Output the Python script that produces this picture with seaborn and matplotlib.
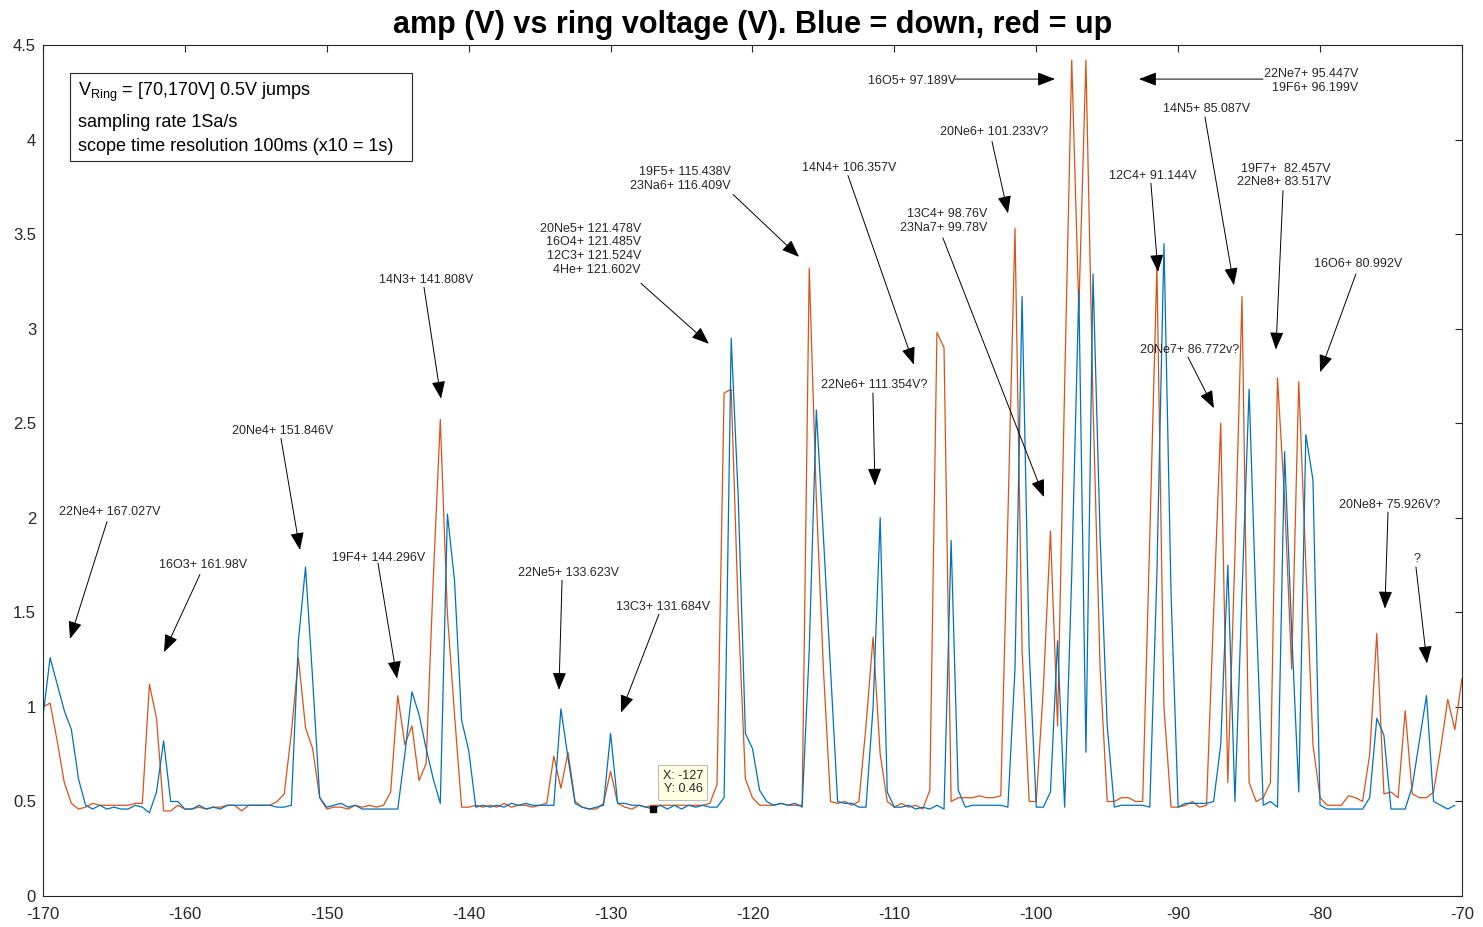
import numpy as np
import matplotlib
matplotlib.use("Agg")
import matplotlib.pyplot as plt
import seaborn as sns
from matplotlib.patches import Rectangle

# ---------------- data ----------------
ring_voltage_up = np.arange(-170.0, -69.75, 0.5)     # -170 ... -70
ring_voltage_down = np.arange(-170.0, -70.25, 0.5)   # -170 ... -70.5

amp_up = [
    1.00, 1.02, 0.82, 0.60, 0.49, 0.46, 0.47, 0.49, 0.48, 0.48,
    0.48, 0.48, 0.48, 0.49, 0.49, 1.12, 0.94, 0.45, 0.45, 0.48,
    0.46, 0.46, 0.47, 0.46, 0.47, 0.47, 0.48, 0.48, 0.45, 0.48,
    0.48, 0.48, 0.48, 0.50, 0.54, 0.86, 1.26, 0.89, 0.78, 0.52,
    0.46, 0.47, 0.47, 0.46, 0.48, 0.47, 0.48, 0.47, 0.48, 0.55,
    1.06, 0.80, 0.90, 0.61, 0.70, 1.67, 2.52, 1.49, 0.96, 0.47,
    0.47, 0.48, 0.47, 0.48, 0.47, 0.49, 0.47, 0.48, 0.48, 0.47,
    0.48, 0.49, 0.74, 0.57, 0.76, 0.50, 0.47, 0.46, 0.46, 0.49,
    0.66, 0.49, 0.47, 0.46, 0.48, 0.47, 0.48, 0.48, 0.48, 0.48,
    0.48, 0.48, 0.48, 0.48, 0.49, 0.59, 2.66, 2.68, 1.50, 0.62,
    0.52, 0.48, 0.48, 0.48, 0.49, 0.48, 0.48, 0.48, 3.32, 2.10,
    1.20, 0.50, 0.49, 0.50, 0.48, 0.50, 0.90, 1.37, 0.75, 0.50,
    0.47, 0.49, 0.47, 0.48, 0.46, 0.56, 2.98, 2.90, 0.50, 0.52,
    0.52, 0.52, 0.53, 0.52, 0.52, 0.53, 2.00, 3.53, 1.30, 0.50,
    0.50, 1.10, 1.93, 0.90, 2.70, 4.42, 3.10, 4.42, 2.60, 1.20,
    0.50, 0.50, 0.52, 0.52, 0.50, 0.50, 1.90, 3.33, 1.00, 0.47,
    0.47, 0.48, 0.50, 0.47, 0.48, 1.50, 2.50, 0.60, 1.80, 3.17,
    0.60, 0.50, 0.52, 0.60, 2.74, 2.10, 1.20, 2.72, 1.75, 0.80,
    0.52, 0.48, 0.48, 0.48, 0.53, 0.52, 0.50, 0.75, 1.39, 0.54,
    0.55, 0.52, 0.98, 0.54, 0.52, 0.52, 0.55, 0.78, 1.04, 0.88,
    1.15,
]

amp_down = [
    0.95, 1.26, 1.12, 0.98, 0.88, 0.62, 0.48, 0.46, 0.48, 0.46,
    0.47, 0.46, 0.46, 0.48, 0.47, 0.44, 0.55, 0.82, 0.50, 0.50,
    0.46, 0.46, 0.48, 0.46, 0.47, 0.46, 0.48, 0.48, 0.48, 0.48,
    0.48, 0.48, 0.48, 0.47, 0.47, 0.48, 1.35, 1.74, 1.15, 0.52,
    0.47, 0.48, 0.49, 0.47, 0.48, 0.46, 0.46, 0.46, 0.46, 0.46,
    0.46, 0.75, 1.08, 0.96, 0.78, 0.62, 0.49, 2.02, 1.67, 0.93,
    0.77, 0.47, 0.48, 0.47, 0.48, 0.47, 0.49, 0.48, 0.49, 0.48,
    0.48, 0.48, 0.48, 0.99, 0.73, 0.49, 0.47, 0.46, 0.47, 0.48,
    0.86, 0.49, 0.49, 0.48, 0.48, 0.47, 0.46, 0.48, 0.46, 0.48,
    0.46, 0.48, 0.47, 0.48, 0.47, 0.47, 0.52, 2.95, 2.10, 0.86,
    0.78, 0.56, 0.50, 0.48, 0.49, 0.48, 0.49, 0.47, 1.30, 2.57,
    1.90, 1.20, 0.50, 0.49, 0.49, 0.47, 0.47, 1.00, 2.00, 0.55,
    0.47, 0.47, 0.48, 0.46, 0.47, 0.46, 0.48, 0.46, 1.88, 0.56,
    0.47, 0.48, 0.48, 0.48, 0.48, 0.48, 0.47, 1.20, 3.17, 1.30,
    0.47, 0.47, 0.55, 1.35, 0.47, 1.70, 3.20, 0.76, 3.29, 1.90,
    0.90, 0.47, 0.48, 0.48, 0.48, 0.48, 0.47, 1.70, 3.45, 1.60,
    0.47, 0.49, 0.49, 0.49, 0.49, 0.50, 0.80, 1.75, 0.50, 1.60,
    2.68, 1.50, 0.48, 0.50, 0.47, 2.35, 1.40, 0.55, 2.44, 2.20,
    0.48, 0.46, 0.46, 0.46, 0.46, 0.46, 0.46, 0.52, 0.94, 0.85,
    0.46, 0.46, 0.46, 0.58, 0.82, 1.06, 0.50, 0.48, 0.46, 0.48,
]

x_ticks = list(range(-170, -69, 10))
y_ticks = [0, 0.5, 1, 1.5, 2, 2.5, 3, 3.5, 4, 4.5]
y_tick_labels = ["0", "0.5", "1", "1.5", "2", "2.5", "3", "3.5", "4", "4.5"]

title = "amp (V) vs ring voltage (V). Blue = down, red = up"
info_lines = [r"V$_{\mathrm{Ring}}$ = [70,170V] 0.5V jumps",
              "sampling rate 1Sa/s",
              "scope time resolution 100ms (x10 = 1s)"]

# (text, text anchor (x, y), ha, arrow tail, arrow tip)
annotations = [
    ("22Ne4+ 167.027V", (-165.28, 2.03), "center", (-165.49, 1.98), (-168.10, 1.36)),
    ("16O3+ 161.98V", (-158.72, 1.75), "center", (-158.94, 1.70), (-161.47, 1.29)),
    ("20Ne4+ 151.846V", (-153.09, 2.46), "center", (-153.23, 2.42), (-151.89, 1.83)),
    ("19F4+ 144.296V", (-146.32, 1.79), "center", (-146.39, 1.76), (-145.05, 1.15)),
    ("14N3+ 141.808V", (-143.01, 3.26), "center", (-143.15, 3.22), (-141.95, 2.63)),
    ("22Ne5+ 133.623V", (-133.00, 1.71), "center", (-133.42, 1.67), (-133.64, 1.09)),
    ("13C3+ 131.684V", (-126.31, 1.53), "center", (-126.59, 1.49), (-129.27, 0.97)),
    ("20Ne5+ 121.478V\n16O4+ 121.485V\n12C3+ 121.524V\n4He+ 121.602V",
     (-127.86, 3.42), "right", (-127.86, 3.24), (-123.07, 2.92)),
    ("19F5+ 115.438V\n23Na6+ 116.409V", (-121.52, 3.79), "right", (-121.37, 3.71), (-116.72, 3.38)),
    ("14N4+ 106.357V", (-113.20, 3.85), "center", (-113.27, 3.81), (-108.62, 2.81)),
    ("22Ne6+ 111.354V?", (-111.44, 2.70), "center", (-111.51, 2.66), (-111.37, 2.17)),
    ("13C4+ 98.76V\n23Na7+ 99.78V", (-103.47, 3.57), "right", (-106.58, 3.48), (-99.46, 2.11)),
    ("20Ne6+ 101.233V?", (-102.98, 4.04), "center", (-103.12, 3.99), (-101.99, 3.61)),
    ("16O5+ 97.189V", (-108.76, 4.31), "center", (-105.73, 4.32), (-98.68, 4.32)),
    ("22Ne7+ 95.447V\n19F6+ 96.199V", (-77.33, 4.31), "right", (-84.02, 4.32), (-92.76, 4.32)),
    ("14N5+ 85.087V", (-87.97, 4.16), "center", (-88.11, 4.12), (-86.07, 3.23)),
    ("12C4+ 91.144V", (-91.78, 3.81), "center", (-91.92, 3.77), (-91.42, 3.30)),
    ("19F7+  82.457V\n22Ne8+ 83.517V", (-79.23, 3.81), "right", (-82.61, 3.73), (-83.11, 2.89)),
    ("16O6+ 80.992V", (-77.33, 3.34), "center", (-77.47, 3.29), (-80.00, 2.77)),
    ("20Ne7+ 86.772v?", (-89.17, 2.89), "center", (-89.31, 2.85), (-87.48, 2.58)),
    ("20Ne8+ 75.926V?", (-75.07, 2.07), "center", (-75.21, 2.03), (-75.43, 1.52)),
    ("?", (-73.17, 1.78), "center", (-73.24, 1.74), (-72.46, 1.23)),
]

datatip_x = -127.0

# ---------------- style ----------------
sns.set_theme(style="white")
plt.rcParams["font.family"] = ["Liberation Sans", "DejaVu Sans"]
plt.rcParams["mathtext.fontset"] = "custom"
plt.rcParams["mathtext.rm"] = "Liberation Sans"
plt.rcParams["mathtext.it"] = "Liberation Sans:italic"
plt.rcParams["axes.unicode_minus"] = False

BLUE = "#0072BD"
RED = "#D95319"
DARK = "#262626"

fig = plt.figure(figsize=(14.83, 9.27), dpi=100)
ax = fig.add_axes([0.0290, 0.0334, 0.9568, 0.9180])

sns.lineplot(x=ring_voltage_up, y=amp_up, color=RED, lw=0.9,
             estimator=None, sort=False, ax=ax)
sns.lineplot(x=ring_voltage_down, y=amp_down, color=BLUE, lw=0.9,
             estimator=None, sort=False, ax=ax)

ax.set_xlim(-170, -70)
ax.set_ylim(0, 4.5)
ax.set_xticks(x_ticks)
ax.set_xticklabels([str(t) for t in x_ticks])
ax.set_yticks(y_ticks)
ax.set_yticklabels(y_tick_labels)
ax.set_xlabel("")
ax.set_ylabel("")
ax.tick_params(axis="both", direction="in", top=True, right=True,
               length=5, width=0.8, colors=DARK, labelsize=12)
ax.tick_params(axis="x", pad=8)
ax.tick_params(axis="y", pad=5)
for sp in ax.spines.values():
    sp.set_visible(True)
    sp.set_color(DARK)
    sp.set_linewidth(0.8)

ax.set_title(title, fontsize=22, fontweight="bold", color="black", pad=9)

# info box
ax.add_patch(Rectangle((0.019, 0.8637), 0.241, 0.1033, transform=ax.transAxes,
                       facecolor="white", edgecolor=DARK, lw=0.8, zorder=5))
for txt, yb in zip(info_lines, [0.9401, 0.9036, 0.8754]):
    ax.text(0.0247, yb, txt, transform=ax.transAxes, fontsize=13,
            va="baseline", ha="left", color="black", zorder=6)

# annotations
for txt, pos, ha, tail, tip in annotations:
    ax.text(pos[0], pos[1], txt, fontsize=9, ha=ha, va="center",
            color=DARK, linespacing=1.2)
    ax.annotate("", xy=tip, xytext=tail,
                arrowprops=dict(arrowstyle="-|>,head_length=0.9,head_width=0.35",
                                color="black", lw=0.7, mutation_scale=12,
                                shrinkA=0, shrinkB=0))

# data tip
idx = int(np.argmin(np.abs(ring_voltage_down - datatip_x)))
tip_y = amp_down[idx]
ax.plot([ring_voltage_down[idx]], [tip_y], marker="s", color="black",
        ms=5, ls="none", zorder=7)
ax.text(-124.9, 0.60, f"X: {ring_voltage_down[idx]:.0f}\nY: {tip_y:.2f}",
        fontsize=9, ha="center", va="center", color=DARK, zorder=7,
        bbox=dict(boxstyle="square,pad=0.35", fc="#FFFFE1", ec="#BDBDBD", lw=0.8))

fig.savefig("out.png", dpi=100)
